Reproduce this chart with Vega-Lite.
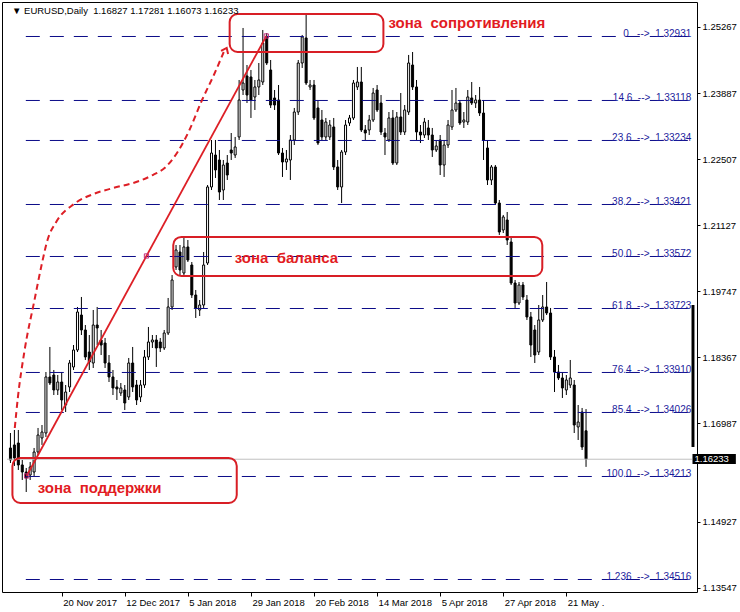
{
  "$schema": "https://vega.github.io/schema/vega-lite/v6.json",
  "width": 695,
  "height": 590,
  "autosize": "none",
  "padding": {"left": 2, "top": 2, "right": 43, "bottom": 20},
  "background": "white",
  "config": {
    "view": {"stroke": "black", "strokeWidth": 1, "fill": "white"},
    "axis": {"grid": false, "domain": false, "tickColor": "black", "labelColor": "black", "labelFont": "Liberation Sans", "labelFontSize": 9.5, "labelFlush": false, "labelOverlap": false},
    "axisX": {"tickSize": 4, "labelAlign": "left", "labelOffset": 1, "labelPadding": 1, "labelBaseline": "top"},
    "axisY": {"tickSize": 3, "labelPadding": 2, "labelBaseline": "middle"}
  },
  "datasets": {
    "candles": [
      {"i":0,"o":1.16468,"h":1.16781,"l":1.16154,"c":1.16217},
      {"i":1,"o":1.16531,"h":1.16844,"l":1.16092,"c":1.16259},
      {"i":2,"o":1.16572,"h":1.16844,"l":1.16008,"c":1.16113},
      {"i":3,"o":1.16113,"h":1.16217,"l":1.15799,"c":1.15966},
      {"i":4,"o":1.15966,"h":1.16050,"l":1.15548,"c":1.15841},
      {"i":5,"o":1.15903,"h":1.16175,"l":1.15799,"c":1.16071},
      {"i":6,"o":1.15966,"h":1.16468,"l":1.15883,"c":1.16384},
      {"i":7,"o":1.16384,"h":1.16886,"l":1.16321,"c":1.16739},
      {"i":8,"o":1.16677,"h":1.16948,"l":1.16531,"c":1.16802},
      {"i":9,"o":1.16781,"h":1.18056,"l":1.16698,"c":1.17952},
      {"i":10,"o":1.17952,"h":1.18579,"l":1.17784,"c":1.17826},
      {"i":11,"o":1.17993,"h":1.18098,"l":1.17575,"c":1.17680},
      {"i":12,"o":1.17680,"h":1.17993,"l":1.17575,"c":1.17847},
      {"i":13,"o":1.17847,"h":1.18056,"l":1.17262,"c":1.17471},
      {"i":14,"o":1.17366,"h":1.17784,"l":1.17220,"c":1.17638},
      {"i":15,"o":1.17743,"h":1.18307,"l":1.17638,"c":1.18244},
      {"i":16,"o":1.18161,"h":1.18620,"l":1.18098,"c":1.18516},
      {"i":17,"o":1.18516,"h":1.19415,"l":1.18474,"c":1.19310},
      {"i":18,"o":1.19247,"h":1.19624,"l":1.18829,"c":1.18934},
      {"i":19,"o":1.18934,"h":1.19038,"l":1.18307,"c":1.18370},
      {"i":20,"o":1.18474,"h":1.18829,"l":1.18098,"c":1.18265},
      {"i":21,"o":1.18244,"h":1.19352,"l":1.18140,"c":1.19038},
      {"i":22,"o":1.19038,"h":1.19415,"l":1.18620,"c":1.18976},
      {"i":23,"o":1.18725,"h":1.18934,"l":1.18411,"c":1.18620},
      {"i":24,"o":1.18662,"h":1.18767,"l":1.18140,"c":1.18244},
      {"i":25,"o":1.18244,"h":1.18411,"l":1.17847,"c":1.17952},
      {"i":26,"o":1.17952,"h":1.18098,"l":1.17575,"c":1.17722},
      {"i":27,"o":1.17743,"h":1.17889,"l":1.17471,"c":1.17701},
      {"i":28,"o":1.17617,"h":1.17826,"l":1.17555,"c":1.17722},
      {"i":29,"o":1.17680,"h":1.17784,"l":1.17262,"c":1.17408},
      {"i":30,"o":1.17534,"h":1.18349,"l":1.17471,"c":1.18244},
      {"i":31,"o":1.18244,"h":1.18579,"l":1.17638,"c":1.17743},
      {"i":32,"o":1.17784,"h":1.17889,"l":1.17366,"c":1.17471},
      {"i":33,"o":1.17534,"h":1.17889,"l":1.17429,"c":1.17784},
      {"i":34,"o":1.17784,"h":1.18516,"l":1.17722,"c":1.18370},
      {"i":35,"o":1.18370,"h":1.18997,"l":1.18307,"c":1.18683},
      {"i":36,"o":1.18683,"h":1.18829,"l":1.18558,"c":1.18725},
      {"i":37,"o":1.18725,"h":1.18829,"l":1.18161,"c":1.18558},
      {"i":38,"o":1.18683,"h":1.18767,"l":1.18474,"c":1.18558},
      {"i":39,"o":1.18558,"h":1.18934,"l":1.18516,"c":1.18871},
      {"i":40,"o":1.18871,"h":1.19603,"l":1.18829,"c":1.19415},
      {"i":41,"o":1.19415,"h":1.20083,"l":1.19352,"c":1.19979},
      {"i":42,"o":1.20251,"h":1.20710,"l":1.20188,"c":1.20606},
      {"i":43,"o":1.20564,"h":1.20710,"l":1.20083,"c":1.20188},
      {"i":44,"o":1.20125,"h":1.20878,"l":1.20083,"c":1.20669},
      {"i":45,"o":1.20669,"h":1.20815,"l":1.20355,"c":1.20397},
      {"i":46,"o":1.20292,"h":1.20355,"l":1.19603,"c":1.19665},
      {"i":47,"o":1.19665,"h":1.19770,"l":1.19185,"c":1.19394},
      {"i":48,"o":1.19352,"h":1.19561,"l":1.19227,"c":1.19456},
      {"i":49,"o":1.19456,"h":1.20564,"l":1.19394,"c":1.20292},
      {"i":50,"o":1.20334,"h":1.21964,"l":1.20292,"c":1.21923},
      {"i":51,"o":1.21923,"h":1.22905,"l":1.21860,"c":1.22633},
      {"i":52,"o":1.22591,"h":1.22905,"l":1.22111,"c":1.22278},
      {"i":53,"o":1.22487,"h":1.22696,"l":1.21651,"c":1.21818},
      {"i":54,"o":1.21860,"h":1.22487,"l":1.21651,"c":1.22382},
      {"i":55,"o":1.22424,"h":1.22591,"l":1.22069,"c":1.22173},
      {"i":56,"o":1.22696,"h":1.23051,"l":1.22487,"c":1.22633},
      {"i":57,"o":1.22591,"h":1.22968,"l":1.22529,"c":1.22759},
      {"i":58,"o":1.22968,"h":1.24159,"l":1.22905,"c":1.23741},
      {"i":59,"o":1.23950,"h":1.25246,"l":1.23845,"c":1.24096},
      {"i":60,"o":1.24243,"h":1.24472,"l":1.23678,"c":1.23845},
      {"i":61,"o":1.24222,"h":1.24368,"l":1.23365,"c":1.23741},
      {"i":62,"o":1.23804,"h":1.24159,"l":1.23532,"c":1.24013},
      {"i":63,"o":1.24013,"h":1.24514,"l":1.23845,"c":1.24159},
      {"i":64,"o":1.24117,"h":1.25204,"l":1.24054,"c":1.24932},
      {"i":65,"o":1.25058,"h":1.25141,"l":1.24472,"c":1.24514},
      {"i":66,"o":1.24368,"h":1.24577,"l":1.23574,"c":1.23636},
      {"i":67,"o":1.23783,"h":1.23950,"l":1.23532,"c":1.23636},
      {"i":68,"o":1.23741,"h":1.24054,"l":1.22591,"c":1.22633},
      {"i":69,"o":1.22633,"h":1.22738,"l":1.22132,"c":1.22445},
      {"i":70,"o":1.22445,"h":1.22696,"l":1.22278,"c":1.22508},
      {"i":71,"o":1.22487,"h":1.23009,"l":1.22069,"c":1.22905},
      {"i":72,"o":1.22905,"h":1.23574,"l":1.22800,"c":1.23490},
      {"i":73,"o":1.23490,"h":1.24577,"l":1.23428,"c":1.24514},
      {"i":74,"o":1.24514,"h":1.25100,"l":1.24410,"c":1.25058},
      {"i":75,"o":1.25037,"h":1.25559,"l":1.24054,"c":1.24096},
      {"i":76,"o":1.24013,"h":1.24159,"l":1.23950,"c":1.24054},
      {"i":77,"o":1.24054,"h":1.24159,"l":1.23323,"c":1.23365},
      {"i":78,"o":1.23574,"h":1.23741,"l":1.22800,"c":1.22842},
      {"i":79,"o":1.23323,"h":1.23532,"l":1.22905,"c":1.22968},
      {"i":80,"o":1.22968,"h":1.23365,"l":1.22905,"c":1.23281},
      {"i":81,"o":1.22968,"h":1.23323,"l":1.22905,"c":1.23218},
      {"i":82,"o":1.23177,"h":1.23365,"l":1.22278,"c":1.22341},
      {"i":83,"o":1.22341,"h":1.22487,"l":1.21860,"c":1.21923},
      {"i":84,"o":1.21923,"h":1.22696,"l":1.21588,"c":1.22654},
      {"i":85,"o":1.22654,"h":1.23323,"l":1.22591,"c":1.23218},
      {"i":86,"o":1.23260,"h":1.23428,"l":1.23198,"c":1.23365},
      {"i":87,"o":1.23365,"h":1.24159,"l":1.23323,"c":1.24096},
      {"i":88,"o":1.24013,"h":1.24431,"l":1.23950,"c":1.24117},
      {"i":89,"o":1.24117,"h":1.24431,"l":1.23072,"c":1.23114},
      {"i":90,"o":1.23114,"h":1.23218,"l":1.22905,"c":1.23051},
      {"i":91,"o":1.23114,"h":1.23428,"l":1.23009,"c":1.23323},
      {"i":92,"o":1.23323,"h":1.23992,"l":1.23281,"c":1.23887},
      {"i":93,"o":1.23950,"h":1.24054,"l":1.23490,"c":1.23532},
      {"i":94,"o":1.23678,"h":1.23845,"l":1.23009,"c":1.23072},
      {"i":95,"o":1.23051,"h":1.23156,"l":1.22591,"c":1.22968},
      {"i":96,"o":1.22905,"h":1.23490,"l":1.22863,"c":1.23365},
      {"i":97,"o":1.23365,"h":1.23532,"l":1.22382,"c":1.22424},
      {"i":98,"o":1.22424,"h":1.23490,"l":1.22382,"c":1.23386},
      {"i":99,"o":1.23386,"h":1.23887,"l":1.23009,"c":1.23072},
      {"i":100,"o":1.23072,"h":1.23636,"l":1.23009,"c":1.23532},
      {"i":101,"o":1.23490,"h":1.24682,"l":1.23428,"c":1.24514},
      {"i":102,"o":1.24472,"h":1.24744,"l":1.23950,"c":1.24013},
      {"i":103,"o":1.24013,"h":1.24159,"l":1.22905,"c":1.23072},
      {"i":104,"o":1.23072,"h":1.23218,"l":1.22842,"c":1.23009},
      {"i":105,"o":1.23009,"h":1.23365,"l":1.22947,"c":1.23281},
      {"i":106,"o":1.23156,"h":1.23323,"l":1.22905,"c":1.23009},
      {"i":107,"o":1.23009,"h":1.23156,"l":1.22550,"c":1.22696},
      {"i":108,"o":1.22696,"h":1.22905,"l":1.22654,"c":1.22780},
      {"i":109,"o":1.22905,"h":1.23009,"l":1.22173,"c":1.22382},
      {"i":110,"o":1.22382,"h":1.22905,"l":1.22132,"c":1.22800},
      {"i":111,"o":1.22800,"h":1.23323,"l":1.22738,"c":1.23218},
      {"i":112,"o":1.23177,"h":1.23950,"l":1.23114,"c":1.23532},
      {"i":113,"o":1.23532,"h":1.23992,"l":1.23490,"c":1.23678},
      {"i":114,"o":1.23678,"h":1.23741,"l":1.23218,"c":1.23260},
      {"i":115,"o":1.23281,"h":1.23490,"l":1.23156,"c":1.23323},
      {"i":116,"o":1.23281,"h":1.23950,"l":1.23218,"c":1.23804},
      {"i":117,"o":1.23783,"h":1.24117,"l":1.23636,"c":1.23678},
      {"i":118,"o":1.23678,"h":1.23845,"l":1.23574,"c":1.23741},
      {"i":119,"o":1.23741,"h":1.24013,"l":1.23407,"c":1.23469},
      {"i":120,"o":1.23469,"h":1.23741,"l":1.22487,"c":1.22905},
      {"i":121,"o":1.22738,"h":1.22905,"l":1.21964,"c":1.22069},
      {"i":122,"o":1.22069,"h":1.22382,"l":1.21964,"c":1.22341},
      {"i":123,"o":1.22341,"h":1.22382,"l":1.21547,"c":1.21588},
      {"i":124,"o":1.21588,"h":1.21651,"l":1.20920,"c":1.20982},
      {"i":125,"o":1.21024,"h":1.21338,"l":1.20961,"c":1.21296},
      {"i":126,"o":1.21233,"h":1.21400,"l":1.20710,"c":1.20815},
      {"i":127,"o":1.20773,"h":1.20857,"l":1.19874,"c":1.19916},
      {"i":128,"o":1.19916,"h":1.19979,"l":1.19394,"c":1.19498},
      {"i":129,"o":1.19498,"h":1.19937,"l":1.19456,"c":1.19874},
      {"i":130,"o":1.19874,"h":1.19937,"l":1.19561,"c":1.19624},
      {"i":131,"o":1.19561,"h":1.19665,"l":1.19143,"c":1.19206},
      {"i":132,"o":1.19206,"h":1.19310,"l":1.18370,"c":1.18620},
      {"i":133,"o":1.18934,"h":1.19038,"l":1.18244,"c":1.18411},
      {"i":134,"o":1.18474,"h":1.19456,"l":1.18411,"c":1.19143},
      {"i":135,"o":1.19143,"h":1.19665,"l":1.19101,"c":1.19415},
      {"i":136,"o":1.19415,"h":1.19937,"l":1.19247,"c":1.19289},
      {"i":137,"o":1.19289,"h":1.19394,"l":1.18307,"c":1.18370},
      {"i":138,"o":1.18370,"h":1.18516,"l":1.17638,"c":1.18056},
      {"i":139,"o":1.18056,"h":1.18203,"l":1.17889,"c":1.17931},
      {"i":140,"o":1.17931,"h":1.18056,"l":1.17513,"c":1.17722},
      {"i":141,"o":1.17680,"h":1.17993,"l":1.17575,"c":1.17889},
      {"i":142,"o":1.17784,"h":1.18307,"l":1.17722,"c":1.17931},
      {"i":143,"o":1.17784,"h":1.17889,"l":1.16781,"c":1.16948},
      {"i":144,"o":1.16907,"h":1.17366,"l":1.16635,"c":1.17011},
      {"i":145,"o":1.17220,"h":1.17304,"l":1.16426,"c":1.16489},
      {"i":146,"o":1.16827,"h":1.17281,"l":1.16073,"c":1.16233}
    ],
    "fib": [
      {"level":"0","price":1.25068,"label":"0\u00a0\u00a0\u00a0-->\u00a0\u00a01.32931"},
      {"level":"14.6","price":1.23731,"label":"14.6\u00a0\u00a0-->\u00a0\u00a01.33118"},
      {"level":"23.6","price":1.22895,"label":"23.6\u00a0\u00a0-->\u00a0\u00a01.33234"},
      {"level":"38.2","price":1.21557,"label":"38.2\u00a0\u00a0-->\u00a0\u00a01.33421"},
      {"level":"50.0","price":1.20470,"label":"50.0\u00a0\u00a0-->\u00a0\u00a01.33572"},
      {"level":"61.8","price":1.19383,"label":"61.8\u00a0\u00a0-->\u00a0\u00a01.33723"},
      {"level":"76.4","price":1.18046,"label":"76.4\u00a0\u00a0-->\u00a0\u00a01.33910"},
      {"level":"85.4","price":1.17210,"label":"85.4\u00a0\u00a0-->\u00a0\u00a01.34026"},
      {"level":"100.0","price":1.15872,"label":"100.0\u00a0\u00a0-->\u00a0\u00a01.34213"},
      {"level":"1.236","price":1.13719,"label":"1.236\u00a0\u00a0-->\u00a0\u00a01.34516"}
    ],
    "zones": [
      {"name":"сопротивление","x1":55.6,"x2":94.6,"y1":1.25538,"y2":1.24744},
      {"name":"баланс","x1":41.3,"x2":134.9,"y1":1.20878,"y2":1.20063},
      {"name":"поддержка","x1":0.5,"x2":57.4,"y1":1.16259,"y2":1.15318}
    ],
    "zoneText": [
      {"text":"зона\u00a0\u00a0сопротивления","i":95.9,"p":1.25246},
      {"text":"зона\u00a0\u00a0баланса","i":56.9,"p":1.20334},
      {"text":"зона\u00a0\u00a0поддержки","i":6.9,"p":1.15527}
    ],
    "trend": [
      {"i":4.1,"p":1.15883},
      {"i":64.9,"p":1.25079}
    ],
    "markers": [
      {"i":4.1,"p":1.15883},
      {"i":34.5,"p":1.20481},
      {"i":64.9,"p":1.25079}
    ],
    "curve": [
      {"k":0,"i":1.1,"p":1.16886},
      {"k":1,"i":1.9,"p":1.17534},
      {"k":2,"i":3.6,"p":1.18516},
      {"k":3,"i":6.1,"p":1.19561},
      {"k":4,"i":7.9,"p":1.20292},
      {"k":5,"i":9.4,"p":1.20815},
      {"k":6,"i":11.6,"p":1.21191},
      {"k":7,"i":16.1,"p":1.21567},
      {"k":8,"i":21.1,"p":1.21777},
      {"k":9,"i":26.1,"p":1.21902},
      {"k":10,"i":31.9,"p":1.22027},
      {"k":11,"i":36.1,"p":1.22173},
      {"k":12,"i":39.1,"p":1.22320},
      {"k":13,"i":42.4,"p":1.22654},
      {"k":14,"i":45.4,"p":1.23114},
      {"k":15,"i":48.6,"p":1.23741},
      {"k":16,"i":51.6,"p":1.24264},
      {"k":17,"i":54.1,"p":1.24744}
    ],
    "arrow": [{"i":54.6,"p":1.24786}],
    "rangebar": [{"top":1.19456,"bottom":1.16489}],
    "current": [{"price":1.16233,"top":1.16342,"bottom":1.16133}],
    "header": [{"text":"▼ EURUSD,Daily\u00a0\u00a01.16827 1.17281 1.16073 1.16233"}]
  },
  "layer": [
    {
      "data": {"name": "candles"},
      "mark": {"type": "rule", "color": "black", "strokeWidth": 1},
      "encoding": {
        "x": {"field": "i", "type": "quantitative", "title": null, "scale": {"domain": [-0.875, 172.875], "nice": false, "zero": false},
          "axis": {"orient": "bottom", "values": [13, 29, 45, 61, 77, 93, 109, 125, 141],
            "labelExpr": "datum.value == 13 ? '20 Nov 2017' : datum.value == 29 ? '12 Dec 2017' : datum.value == 45 ? '5 Jan 2018' : datum.value == 61 ? '29 Jan 2018' : datum.value == 77 ? '20 Feb 2018' : datum.value == 93 ? '14 Mar 2018' : datum.value == 109 ? '5 Apr 2018' : datum.value == 125 ? '27 Apr 2018' : '21 May .'"}},
        "y": {"field": "l", "type": "quantitative", "title": null, "scale": {"domain": [1.13458, 1.25789], "nice": false, "zero": false},
          "axis": {"orient": "right",
            "values": [1.25267, 1.24567, 1.23887, 1.23187, 1.22507, 1.21807, 1.21127, 1.20427, 1.19747, 1.19047, 1.18367, 1.17667, 1.16987, 1.15607, 1.14927, 1.14227, 1.13547],
            "format": ".5f"}},
        "y2": {"field": "h"}
      }
    },
    {
      "data": {"name": "candles"},
      "mark": {"type": "bar", "width": 2, "stroke": "black", "strokeWidth": 1},
      "encoding": {
        "x": {"field": "i", "type": "quantitative", "title": null, "scale": {"domain": [-0.875, 172.875], "nice": false, "zero": false}, "axis": {"orient": "bottom"}},
        "y": {"field": "o", "type": "quantitative", "title": null, "scale": {"domain": [1.13458, 1.25789], "nice": false, "zero": false}, "axis": {"orient": "right"}},
        "y2": {"field": "c"},
        "fill": {"condition": {"test": "datum.c < datum.o", "value": "black"}, "value": "white"}
      }
    },
    {
      "data": {"name": "fib"},
      "mark": {"type": "rule", "color": "#0c0c88", "strokeWidth": 1, "strokeDash": [14, 10]},
      "encoding": {
        "x": {"datum": 3.9, "type": "quantitative", "title": null, "scale": {"domain": [-0.875, 172.875], "nice": false, "zero": false}, "axis": {"orient": "bottom"}},
        "x2": {"datum": 172.875},
        "y": {"field": "price", "type": "quantitative", "title": null, "scale": {"domain": [1.13458, 1.25789], "nice": false, "zero": false}, "axis": {"orient": "right"}}
      }
    },
    {
      "data": {"name": "current"},
      "mark": {"type": "rule", "color": "#c0c0c0", "strokeWidth": 1},
      "encoding": {
        "x": {"datum": -0.875, "type": "quantitative", "title": null, "scale": {"domain": [-0.875, 172.875], "nice": false, "zero": false}, "axis": {"orient": "bottom"}},
        "x2": {"datum": 172.875},
        "y": {"field": "price", "type": "quantitative", "title": null, "scale": {"domain": [1.13458, 1.25789], "nice": false, "zero": false}, "axis": {"orient": "right"}}
      }
    },
    {
      "data": {"name": "zones"},
      "mark": {"type": "rect", "cornerRadius": 8, "fillOpacity": 0, "stroke": "#d81e25", "strokeWidth": 2},
      "encoding": {
        "x": {"field": "x1", "type": "quantitative", "title": null, "scale": {"domain": [-0.875, 172.875], "nice": false, "zero": false}, "axis": {"orient": "bottom"}},
        "x2": {"field": "x2"},
        "y": {"field": "y1", "type": "quantitative", "title": null, "scale": {"domain": [1.13458, 1.25789], "nice": false, "zero": false}, "axis": {"orient": "right"}},
        "y2": {"field": "y2"}
      }
    },
    {
      "data": {"name": "zoneText"},
      "mark": {"type": "text", "align": "left", "baseline": "alphabetic", "font": "Liberation Sans", "fontSize": 15, "fontWeight": "bold", "color": "#e21b22"},
      "encoding": {
        "x": {"field": "i", "type": "quantitative", "title": null, "scale": {"domain": [-0.875, 172.875], "nice": false, "zero": false}, "axis": {"orient": "bottom"}},
        "y": {"field": "p", "type": "quantitative", "title": null, "scale": {"domain": [1.13458, 1.25789], "nice": false, "zero": false}, "axis": {"orient": "right"}},
        "text": {"field": "text", "type": "nominal"}
      }
    },
    {
      "data": {"name": "trend"},
      "mark": {"type": "line", "color": "#dd1f26", "strokeWidth": 1.8},
      "encoding": {
        "x": {"field": "i", "type": "quantitative", "title": null, "scale": {"domain": [-0.875, 172.875], "nice": false, "zero": false}, "axis": {"orient": "bottom"}},
        "y": {"field": "p", "type": "quantitative", "title": null, "scale": {"domain": [1.13458, 1.25789], "nice": false, "zero": false}, "axis": {"orient": "right"}}
      }
    },
    {
      "data": {"name": "curve"},
      "mark": {"type": "line", "color": "#dd1f26", "strokeWidth": 2, "strokeDash": [6, 4], "interpolate": "monotone"},
      "encoding": {
        "x": {"field": "i", "type": "quantitative", "title": null, "scale": {"domain": [-0.875, 172.875], "nice": false, "zero": false}, "axis": {"orient": "bottom"}},
        "y": {"field": "p", "type": "quantitative", "title": null, "scale": {"domain": [1.13458, 1.25789], "nice": false, "zero": false}, "axis": {"orient": "right"}},
        "order": {"field": "k", "type": "quantitative"}
      }
    },
    {
      "data": {"name": "arrow"},
      "mark": {"type": "point", "shape": "M -1 0.7 L 0 -0.6 L 1 0.7", "filled": false, "stroke": "#dd1f26", "strokeWidth": 2, "size": 60, "angle": 25, "opacity": 1},
      "encoding": {
        "x": {"field": "i", "type": "quantitative", "title": null, "scale": {"domain": [-0.875, 172.875], "nice": false, "zero": false}, "axis": {"orient": "bottom"}},
        "y": {"field": "p", "type": "quantitative", "title": null, "scale": {"domain": [1.13458, 1.25789], "nice": false, "zero": false}, "axis": {"orient": "right"}}
      }
    },
    {
      "data": {"name": "markers"},
      "mark": {"type": "point", "shape": "square", "filled": false, "stroke": "#c0307f", "strokeWidth": 1, "size": 18, "opacity": 1},
      "encoding": {
        "x": {"field": "i", "type": "quantitative", "title": null, "scale": {"domain": [-0.875, 172.875], "nice": false, "zero": false}, "axis": {"orient": "bottom"}},
        "y": {"field": "p", "type": "quantitative", "title": null, "scale": {"domain": [1.13458, 1.25789], "nice": false, "zero": false}, "axis": {"orient": "right"}}
      }
    },
    {
      "data": {"name": "fib"},
      "mark": {"type": "text", "align": "right", "baseline": "alphabetic", "dy": 0.5, "font": "Liberation Sans", "fontSize": 10, "color": "#1c1c9c"},
      "encoding": {
        "x": {"datum": 172.7, "type": "quantitative", "title": null, "scale": {"domain": [-0.875, 172.875], "nice": false, "zero": false}, "axis": {"orient": "bottom"}},
        "y": {"field": "price", "type": "quantitative", "title": null, "scale": {"domain": [1.13458, 1.25789], "nice": false, "zero": false}, "axis": {"orient": "right"}},
        "text": {"field": "label", "type": "nominal"}
      }
    },
    {
      "data": {"name": "rangebar"},
      "mark": {"type": "rect", "color": "black"},
      "encoding": {
        "x": {"datum": 172.75, "type": "quantitative", "title": null, "scale": {"domain": [-0.875, 172.875], "nice": false, "zero": false}, "axis": {"orient": "bottom"}},
        "x2": {"datum": 173.5},
        "y": {"field": "top", "type": "quantitative", "title": null, "scale": {"domain": [1.13458, 1.25789], "nice": false, "zero": false}, "axis": {"orient": "right"}},
        "y2": {"field": "bottom"}
      }
    },
    {
      "data": {"name": "current"},
      "mark": {"type": "rect", "color": "black"},
      "encoding": {
        "x": {"datum": 173.0, "type": "quantitative", "title": null, "scale": {"domain": [-0.875, 172.875], "nice": false, "zero": false}, "axis": {"orient": "bottom"}},
        "x2": {"datum": 184.0},
        "y": {"field": "top", "type": "quantitative", "title": null, "scale": {"domain": [1.13458, 1.25789], "nice": false, "zero": false}, "axis": {"orient": "right"}},
        "y2": {"field": "bottom"}
      }
    },
    {
      "data": {"name": "current"},
      "mark": {"type": "text", "align": "left", "baseline": "middle", "dx": 2, "font": "Liberation Sans", "fontSize": 9.5, "color": "white"},
      "encoding": {
        "x": {"datum": 173.0, "type": "quantitative", "title": null, "scale": {"domain": [-0.875, 172.875], "nice": false, "zero": false}, "axis": {"orient": "bottom"}},
        "y": {"field": "price", "type": "quantitative", "title": null, "scale": {"domain": [1.13458, 1.25789], "nice": false, "zero": false}, "axis": {"orient": "right"}},
        "text": {"field": "price", "type": "quantitative", "format": ".5f"}
      }
    },
    {
      "data": {"name": "header"},
      "mark": {"type": "text", "align": "left", "baseline": "alphabetic", "dx": 5, "dy": 12, "font": "Liberation Sans", "fontSize": 9.5, "color": "black"},
      "encoding": {
        "x": {"datum": -0.875, "type": "quantitative", "title": null, "scale": {"domain": [-0.875, 172.875], "nice": false, "zero": false}, "axis": {"orient": "bottom"}},
        "y": {"datum": 1.25789, "type": "quantitative", "title": null, "scale": {"domain": [1.13458, 1.25789], "nice": false, "zero": false}, "axis": {"orient": "right"}},
        "text": {"field": "text", "type": "nominal"}
      }
    }
  ]
}
